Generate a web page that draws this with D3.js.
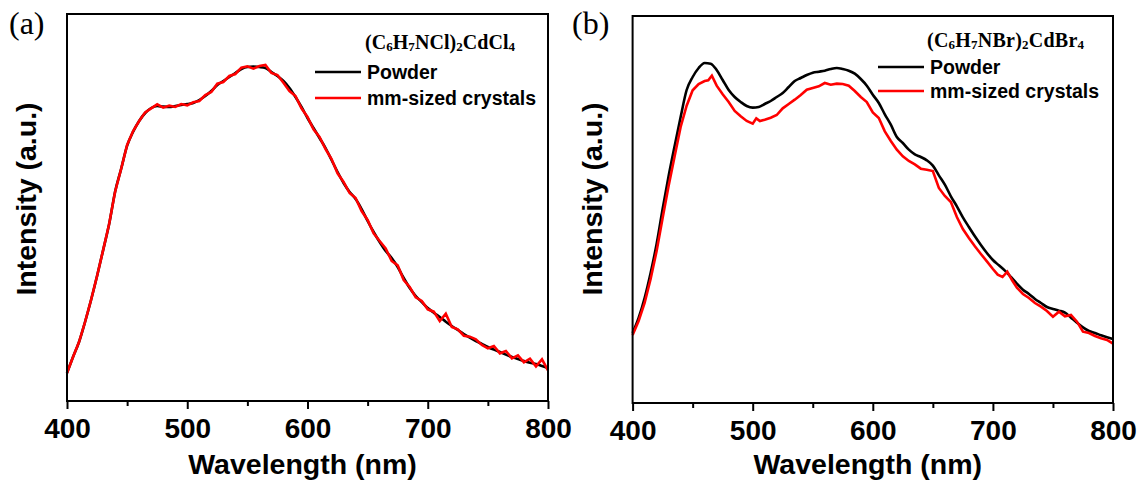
<!DOCTYPE html>
<html lang="en">
	<head>
		<meta charset="utf-8">
		<title>PL spectra</title>
		<script type="text/javascript" src="https://cdn.jsdelivr.net/npm/d3@7/dist/d3.min.js"></script>
		<style type="text/css">
		body { margin: 0; background: #fff; }
		.tick text { font-family: Arial, "Liberation Sans", sans-serif; font-weight: bold; }
		</style>
	</head>
	<body>
		<script type="text/javascript">

		//Width and height
		var w = 1141;
		var h = 488;

		var xTicks = [400, 500, 600, 700, 800];
		var xMinor = [450, 550, 650, 750];

		// 5 nm grid used by most series
		var wl5 = [400,405,410,415,420,425,430,435,440,445,450,455,460,465,470,475,480,485,490,495,
			500,505,510,515,520,525,530,535,540,545,550,555,560,565,570,575,580,585,590,595,
			600,605,610,615,620,625,630,635,640,645,650,655,660,665,670,675,680,685,690,695,
			700,705,710,715,720,725,730,735,740,745,750,755,760,765,770,775,780,785,790,795,800];

		//(a) (C6H7NCl)2CdCl4
		var powderA = [84,132,177,237,303,375,452,530,628,696,766,808,840,864,879,885,883,882,885,888,
			891,894,903,915,930,948,960,972,984,996,1002,1003,1002,999,987,975,960,939,912,882,
			849,819,789,759,723,687,654,627,606,576,540,507,477,450,429,402,369,339,315,297,
			279,265,252,238,225,213,201,190,180,171,162,154,147,139,132,126,120,115,111,105,99];
		var crystalA = [84,132,177,237,303,375,452,530,628,696,768,810,840,866,878,890,880,886,882,891,
			887,896,900,918,927,952,957,975,981,1000,1004,997,1005,1008,984,978,955,930,915,878,
			852,815,792,756,726,683,657,624,609,570,543,503,480,458,420,407,363,342,311,300,
			275,268,240,262,222,215,196,193,185,168,158,165,143,150,128,137,116,127,104,125,92];

		//(b) (C6H7NBr)2CdBr4
		var powderB = [210,255,315,390,477,582,681,771,858,939,978,1005,1020,1018,999,969,939,918,903,891,
			886,888,897,906,918,930,948,966,975,984,991,994,997,1002,1005,1002,997,988,972,952,
			925,900,866,835,798,780,760,746,738,728,712,683,655,620,590,557,528,500,474,450,
			429,413,397,378,358,340,327,312,300,288,282,277,271,256,241,227,216,210,203,197,192];
		var wlCrystalB = [400,405,410,415,420,425,430,435,440,445,450,455,460,463,466,470,475,480,485,490,495,
			500,503,506,510,515,520,525,530,535,540,545,550,555,560,565,570,575,580,585,590,595,
			600,605,610,615,620,625,630,635,640,645,650,655,660,665,670,675,680,685,690,695,
			700,704,708,712,716,720,725,730,735,740,745,750,755,760,765,770,775,780,785,790,795,800];
		var crystalB = [204,246,300,372,456,555,652,740,828,892,938,957,966,968,982,952,926,903,876,860,846,
			838,854,846,850,856,864,884,897,910,924,940,945,950,960,955,958,957,952,936,918,903,
			872,855,815,786,760,740,726,716,703,700,696,645,621,603,558,522,495,470,447,425,
			402,385,378,394,368,346,327,315,300,289,276,259,274,260,264,244,214,210,201,194,189,178];

		var zip = function(xs, ys) {
			return xs.map(function(x, i) { return { x: x, y: ys[i] }; });
		};

		var svg = d3.select("body")
					.append("svg")
					.attr("width", w)
					.attr("height", h);

		var panels = [
			{ label: "(a)", lx: 9, left: 67, right: 548, top: 14, bottom: 401,
			  formula: ["(C", "6", "H", "7", "NCl)", "2", "CdCl", "4"], fx: 365, fy: 49, fw: 150,
			  legX: 315, legY: 72, legGap: 26,
			  powder: zip(wl5, powderA), crystal: zip(wl5, crystalA) },
			{ label: "(b)", lx: 572, left: 632.6, right: 1113, top: 16, bottom: 403,
			  formula: ["(C", "6", "H", "7", "NBr)", "2", "CdBr", "4"], fx: 927, fy: 47, fw: 157,
			  legX: 878, legY: 67, legGap: 24,
			  powder: zip(wl5, powderB), crystal: zip(wlCrystalB, crystalB) }
		];

		panels.forEach(function(p) {
			var x = d3.scaleLinear().domain([400, 800]).range([p.left, p.right]);
			var y = d3.scaleLinear().domain([0, 1161]).range([p.bottom, p.top]);

			var line = d3.line()
				.x(function(d) { return x(d.x); })
				.y(function(d) { return y(d.y); });

			var g = svg.append("g");

			//curves: powder first, crystals on top
			g.append("path")
				.datum(p.powder)
				.attr("d", line.curve(d3.curveMonotoneX))
				.attr("fill", "none")
				.attr("stroke", "#000")
				.attr("stroke-width", 2.6);
			g.append("path")
				.datum(p.crystal)
				.attr("d", line.curve(d3.curveLinear))
				.attr("fill", "none")
				.attr("stroke", "#ff0000")
				.attr("stroke-width", 2.6);

			//frame
			g.append("rect")
				.attr("x", p.left)
				.attr("y", p.top)
				.attr("width", p.right - p.left)
				.attr("height", p.bottom - p.top)
				.attr("fill", "none")
				.attr("stroke", "#000")
				.attr("stroke-width", 2);

			//x axis, major + minor
			var ax = g.append("g")
				.attr("transform", "translate(0," + p.bottom + ")")
				.call(d3.axisBottom(x).tickValues(xTicks).tickSize(8).tickFormat(d3.format("d")));
			ax.select(".domain").remove();
			ax.selectAll("line").attr("stroke-width", 2);
			ax.selectAll("text")
				.attr("y", 37)
				.attr("dy", 0)
				.attr("fill", "#000")
				.style("font-size", "28px");

			var axm = g.append("g")
				.attr("transform", "translate(0," + p.bottom + ")")
				.call(d3.axisBottom(x).tickValues(xMinor).tickSize(5).tickFormat(""));
			axm.select(".domain").remove();
			axm.selectAll("line").attr("stroke-width", 2);

			//axis titles
			g.append("text")
				.attr("x", (p.left + p.right) / 2 - 5)
				.attr("y", 474)
				.attr("text-anchor", "middle")
				.style("font-family", "Arial, 'Liberation Sans', sans-serif")
				.style("font-weight", "bold")
				.style("font-size", "28.5px")
				.text("Wavelength (nm)");

			g.append("text")
				.attr("transform", "translate(" + (p.left - 31) + "," + 199 + ") rotate(-90)")
				.attr("text-anchor", "middle")
				.style("font-family", "Arial, 'Liberation Sans', sans-serif")
				.style("font-weight", "bold")
				.style("font-size", "28.5px")
				.text("Intensity (a.u.)");

			//panel label
			g.append("text")
				.attr("x", p.lx)
				.attr("y", 34)
				.style("font-family", "'Times New Roman', 'Liberation Serif', serif")
				.style("font-size", "32px")
				.text(p.label);

			//formula with subscripts
			var f = g.append("text")
				.attr("x", p.fx)
				.attr("y", p.fy)
				.attr("textLength", p.fw)
				.attr("lengthAdjust", "spacing")
				.style("font-family", "'Times New Roman', 'Liberation Serif', serif")
				.style("font-weight", "bold")
				.style("font-size", "20px");
			p.formula.forEach(function(s, i) {
				var t = f.append("tspan").text(s);
				if (i % 2 == 1) {
					t.style("font-size", "13px").attr("dy", 2);
				} else if (i > 0) {
					t.attr("dy", -2);
				}
			});

			//legend
			var names = ["Powder", "mm-sized crystals"];
			var colors = ["#000", "#ff0000"];
			names.forEach(function(n, i) {
				var ly = p.legY + i * p.legGap;
				g.append("line")
					.attr("x1", p.legX)
					.attr("x2", p.legX + 46)
					.attr("y1", ly)
					.attr("y2", ly)
					.attr("stroke", colors[i])
					.attr("stroke-width", 2.6);
				g.append("text")
					.attr("x", p.legX + 52)
					.attr("y", ly + 7)
					.style("font-family", "Arial, 'Liberation Sans', sans-serif")
					.style("font-weight", "bold")
					.style("font-size", "19.5px")
					.text(n);
			});
		});

		</script>
	</body>
</html>
